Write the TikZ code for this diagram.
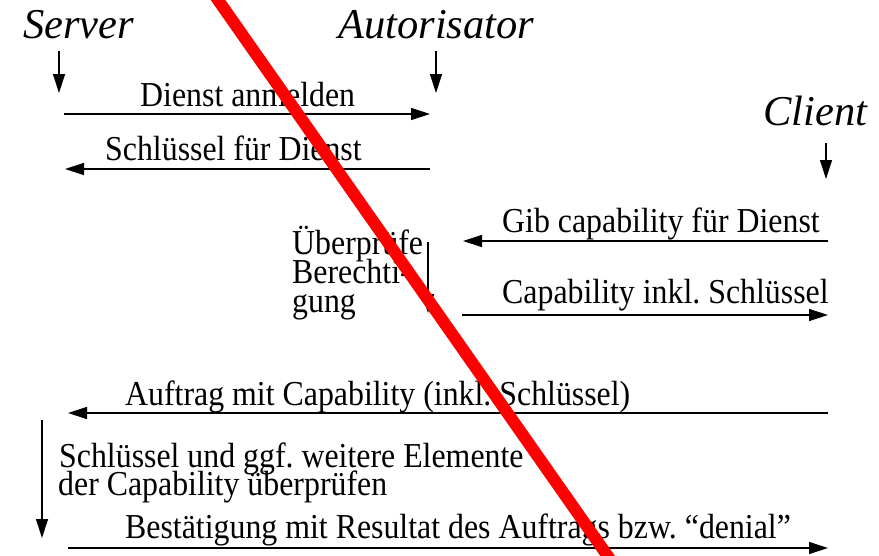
\documentclass[tikz,border=0pt]{standalone}
\usepackage{fontspec}
\setmainfont{Liberation Serif}
\newfontfamily\msgfont[FakeStretch=0.91]{Liberation Serif}
\usetikzlibrary{arrows.meta}
\begin{document}
\begin{tikzpicture}[x=1pt,y=-1pt,
  msg/.style={font=\msgfont\fontsize{35}{38}\selectfont\frenchspacing, inner sep=0pt, anchor=base west},
  actor/.style={font=\fontsize{42.5}{48}\selectfont\itshape, inner sep=0pt, anchor=base west},
  flow/.style={line width=1.2pt, -{Triangle[length=19pt,width=12pt]}},
  strike/.style={line width=12pt, red}]
\useasboundingbox (0,0) rectangle (879,555);

% parties
\node[actor] (server) at (23,38) {Server};
\node[actor] (autor) at (338,38) {Autorisator};
\node[actor] (client) at (763,125) {Client};

% short arrows below the party names
\coordinate (srvtop) at (59,51);  \coordinate (srvtip) at (59,93);
\coordinate (auttop) at (436,51); \coordinate (auttip) at (436,93);
\coordinate (clitop) at (826,143); \coordinate (clitip) at (826,179);
\draw[flow] (srvtop) -- (srvtip);
\draw[flow] (auttop) -- (auttip);
\draw[flow] (clitop) -- (clitip);

% registration of the service
\node[msg] (t1) at (140,106) {Dienst anmelden};
\coordinate (a1s) at (64,114);  \coordinate (a1e) at (430,114);
\draw[flow] (a1s) -- (a1e);

\node[msg] (t2) at (105,160) {Schlüssel für Dienst};
\coordinate (a2s) at (430,169); \coordinate (a2e) at (65,169);
\draw[flow] (a2s) -- (a2e);

% client asks for a capability
\node[msg] (t3) at (502,232) {Gib capability für Dienst};
\coordinate (a3s) at (828,241); \coordinate (a3e) at (463,241);
\draw[flow] (a3s) -- (a3e);

\node[msg] (p1) at (292,254) {Überprüfe};
\node[msg] (p2) at (292,283) {Berechti-};
\node[msg] (p3) at (292,312) {gung};
\coordinate (c1s) at (428,242); \coordinate (c1e) at (428,313);
\draw[flow] (c1s) -- (c1e);

\node[msg] (t4) at (502,303) {Capability inkl. Schlüssel};
\coordinate (a4s) at (462,315); \coordinate (a4e) at (828,315);
\draw[flow] (a4s) -- (a4e);

% request to the server
\node[msg] (t5) at (125,405) {Auftrag mit Capability (inkl. Schlüssel)};
\coordinate (a5s) at (828,413); \coordinate (a5e) at (68,413);
\draw[flow] (a5s) -- (a5e);

\node[msg] (q1) at (59,467) {Schlüssel und ggf. weitere Elemente};
\node[msg] (q2) at (58,495) {der Capability überprüfen};
\coordinate (c2s) at (42,420); \coordinate (c2e) at (42,538);
\draw[flow] (c2s) -- (c2e);

\node[msg] (t6) at (125,538) {Bestätigung mit Resultat des Auftrags bzw. “denial”};
\coordinate (a6s) at (68,548); \coordinate (a6e) at (828,548);
\draw[flow] (a6s) -- (a6e);

% red strike-through across the whole drawing
\coordinate (rs) at (211,-10); \coordinate (re) at (614,565);
\draw[strike] (rs) -- (re);
\end{tikzpicture}
\end{document}
